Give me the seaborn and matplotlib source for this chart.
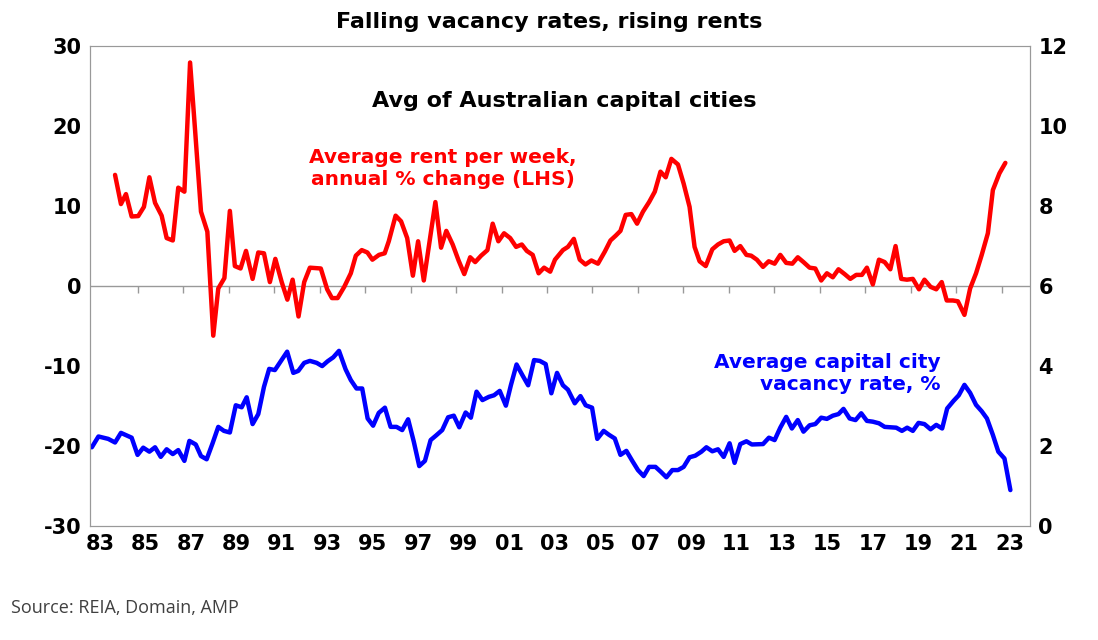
import matplotlib
matplotlib.use('Agg')
import matplotlib.pyplot as plt
import numpy as np
import pandas as pd
import seaborn as sns

# rent growth, annual % change (LHS)
rent_year = [1983.66, 1983.92, 1984.14, 1984.39, 1984.68, 1984.93, 1985.17, 1985.42, 1985.71, 1985.93,
             1986.2, 1986.44, 1986.71, 1986.96, 1987.18, 1987.44, 1987.72, 1987.98, 1988.2, 1988.47,
             1988.71, 1988.93, 1989.18, 1989.42, 1989.71, 1989.96, 1990.21, 1990.47, 1990.71, 1990.99,
             1991.24, 1991.47, 1991.73, 1991.98, 1992.23, 1992.71, 1992.99, 1993.2, 1993.45, 1993.74,
             1994.03, 1994.25, 1994.51, 1994.76, 1994.98, 1995.27, 1995.52, 1995.7, 1996.0, 1996.24,
             1996.51, 1996.76, 1996.99, 1997.24, 1997.75, 1998.0, 1998.23, 1998.51, 1998.77, 1999.02,
             1999.28, 1999.5, 1999.76, 2000.04, 2000.27, 2000.52, 2000.77, 2001.04, 2001.3, 2001.55,
             2001.77, 2002.03, 2002.29, 2002.53, 2002.8, 2003.01, 2003.36, 2003.58, 2003.84, 2004.1,
             2004.35, 2004.61, 2004.9, 2005.2, 2005.45, 2005.68, 2005.89, 2006.12, 2006.37, 2006.62,
             2006.88, 2007.15, 2007.4, 2007.65, 2007.88, 2008.13, 2008.42, 2008.67, 2008.93, 2009.15,
             2009.37, 2009.64, 2009.93, 2010.18, 2010.43, 2010.69, 2010.91, 2011.16, 2011.43, 2011.64,
             2011.89, 2012.16, 2012.41, 2012.67, 2012.92, 2013.18, 2013.45, 2013.69, 2013.94, 2014.21,
             2014.46, 2014.72, 2014.97, 2015.23, 2015.48, 2015.75, 2016.0, 2016.26, 2016.51, 2016.73,
             2016.99, 2017.26, 2017.51, 2017.76, 2017.99, 2018.24, 2018.49, 2018.75, 2019.02, 2019.26,
             2019.53, 2019.78, 2020.02, 2020.24, 2020.51, 2020.73, 2021.02, 2021.27, 2021.53, 2021.78,
             2022.05, 2022.27, 2022.56, 2022.82]
rent_chg = [13.9, 10.25, 11.5, 8.7, 8.75, 9.9, 13.6, 10.4, 8.8, 6.0,
            5.7, 12.3, 11.8, 27.95, 19.5, 9.3, 6.8, -6.2, -0.3, 1.0,
            9.4, 2.5, 2.2, 4.4, 0.9, 4.2, 4.1, 0.5, 3.4, 0.5,
            -1.7, 0.8, -3.8, 0.5, 2.3, 2.2, -0.4, -1.5, -1.5, -0.1,
            1.6, 3.8, 4.5, 4.2, 3.3, 3.9, 4.1, 5.6, 8.8, 8.1,
            6.0, 1.3, 5.6, 0.7, 10.5, 4.8, 6.9, 5.2, 3.2, 1.5,
            3.6, 3.0, 3.8, 4.5, 7.8, 5.6, 6.6, 6.0, 4.9, 5.2,
            4.4, 3.9, 1.6, 2.3, 1.8, 3.3, 4.5, 4.9, 5.9, 3.3,
            2.7, 3.2, 2.8, 4.3, 5.7, 6.3, 6.9, 8.9, 9.0, 7.8,
            9.3, 10.5, 11.8, 14.3, 13.6, 15.9, 15.2, 12.8, 9.9, 4.9,
            3.1, 2.5, 4.6, 5.2, 5.6, 5.7, 4.4, 5.0, 3.9, 3.8,
            3.3, 2.4, 3.1, 2.8, 3.9, 2.9, 2.8, 3.6, 3.0, 2.3,
            2.2, 0.7, 1.6, 1.1, 2.1, 1.5, 0.9, 1.4, 1.4, 2.3,
            0.2, 3.3, 3.0, 2.1, 5.0, 0.9, 0.8, 0.9, -0.4, 0.8,
            -0.1, -0.4, 0.5, -1.8, -1.8, -1.9, -3.6, -0.3, 1.6, 3.9,
            6.6, 12.0, 14.1, 15.4]

# vacancy rate, % (RHS)
vac_year = [1982.64, 1982.93, 1983.36, 1983.66, 1983.92, 1984.39, 1984.65, 1984.9, 1985.17, 1985.42,
            1985.67, 1985.93, 1986.2, 1986.44, 1986.71, 1986.93, 1987.21, 1987.44, 1987.69, 1987.95,
            1988.2, 1988.45, 1988.71, 1988.97, 1989.23, 1989.45, 1989.71, 1989.96, 1990.21, 1990.44,
            1990.69, 1990.96, 1991.23, 1991.5, 1991.72, 1991.98, 1992.23, 1992.53, 1992.77, 1993.01,
            1993.26, 1993.51, 1993.8, 1994.03, 1994.28, 1994.53, 1994.77, 1995.01, 1995.26, 1995.53,
            1995.78, 1996.04, 1996.29, 1996.55, 1996.8, 1997.04, 1997.29, 1997.54, 1997.77, 1998.05,
            1998.31, 1998.56, 1998.8, 1999.08, 1999.31, 1999.56, 1999.82, 2000.1, 2000.33, 2000.58,
            2000.85, 2001.07, 2001.32, 2001.58, 2001.83, 2002.09, 2002.34, 2002.6, 2002.85, 2003.1,
            2003.36, 2003.58, 2003.88, 2004.13, 2004.36, 2004.64, 2004.87, 2005.15, 2005.39, 2005.64,
            2005.89, 2006.15, 2006.41, 2006.66, 2006.91, 2007.15, 2007.43, 2007.66, 2007.91, 2008.17,
            2008.42, 2008.67, 2008.93, 2009.18, 2009.45, 2009.67, 2009.93, 2010.18, 2010.43, 2010.69,
            2010.91, 2011.16, 2011.43, 2011.67, 2012.16, 2012.42, 2012.67, 2012.92, 2013.18, 2013.43,
            2013.69, 2013.94, 2014.21, 2014.46, 2014.72, 2014.97, 2015.23, 2015.48, 2015.7, 2015.97,
            2016.23, 2016.48, 2016.73, 2016.99, 2017.26, 2017.51, 2017.76, 2018.02, 2018.27, 2018.5,
            2018.75, 2019.0, 2019.26, 2019.53, 2019.78, 2020.04, 2020.26, 2020.54, 2020.77, 2021.02,
            2021.27, 2021.53, 2021.78, 2022.01, 2022.27, 2022.51, 2022.78, 2023.04]
vac_rate = [1.97, 2.24, 2.18, 2.09, 2.33, 2.21, 1.78, 1.96, 1.86, 1.97,
            1.73, 1.92, 1.8, 1.9, 1.63, 2.13, 2.04, 1.75, 1.67, 2.07,
            2.48, 2.38, 2.34, 3.02, 2.97, 3.22, 2.55, 2.8, 3.48, 3.93,
            3.9, 4.13, 4.36, 3.83, 3.88, 4.08, 4.13, 4.08, 4.0, 4.12,
            4.22, 4.38, 3.92, 3.65, 3.44, 3.44, 2.69, 2.51, 2.83, 2.96,
            2.48, 2.48, 2.4, 2.67, 2.11, 1.5, 1.63, 2.15, 2.26, 2.4,
            2.72, 2.76, 2.47, 2.84, 2.71, 3.36, 3.15, 3.23, 3.27, 3.38,
            3.01, 3.52, 4.04, 3.77, 3.52, 4.15, 4.13, 4.05, 3.32, 3.83,
            3.52, 3.41, 3.07, 3.25, 3.02, 2.96, 2.18, 2.38, 2.28, 2.19,
            1.78, 1.88, 1.63, 1.4, 1.25, 1.48, 1.48, 1.36, 1.22, 1.4,
            1.4, 1.48, 1.72, 1.76, 1.86, 1.97, 1.87, 1.92, 1.73, 2.07,
            1.58, 2.05, 2.12, 2.04, 2.05, 2.21, 2.15, 2.46, 2.73, 2.44,
            2.65, 2.36, 2.52, 2.55, 2.71, 2.68, 2.76, 2.8, 2.93, 2.69,
            2.65, 2.82, 2.63, 2.61, 2.57, 2.48, 2.47, 2.46, 2.38, 2.46,
            2.38, 2.58, 2.55, 2.42, 2.53, 2.44, 2.94, 3.13, 3.27, 3.53,
            3.33, 3.03, 2.87, 2.69, 2.28, 1.86, 1.69, 0.9]

year_ticks = list(range(1983, 2024, 2))
year_labels = [f'{y % 100:02d}' for y in year_ticks]
zero_ticks = [y + 1.66 for y in range(1983, 2023, 2)]

rent_df = pd.DataFrame({'year': rent_year, 'chg': rent_chg})
vac_df = pd.DataFrame({'year': vac_year, 'rate': vac_rate})

sns.set_style('white')
plt.rcParams['font.family'] = ['DejaVu Sans']
plt.rcParams['axes.unicode_minus'] = False

fig = plt.figure(figsize=(10.98, 6.4), dpi=100)
ax = fig.add_axes([0.082, 0.178, 0.856, 0.75])
ax2 = ax.twinx()

sns.lineplot(x='year', y='chg', data=rent_df, ax=ax, color='#ff0000', linewidth=3.2)
sns.lineplot(x='year', y='rate', data=vac_df, ax=ax2, color='#0000ff', linewidth=3.2)

ax.set_xlim(1982.56, 2023.9)
ax.set_ylim(-30, 30)
ax2.set_ylim(0, 12)
ax.set_yticks(range(-30, 31, 10))
ax2.set_yticks(range(0, 13, 2))
ax.set_xticks(year_ticks)
ax.set_xticklabels(year_labels)
for a in (ax, ax2):
    a.set_xlabel('')
    a.set_ylabel('')
    a.tick_params(labelsize=15, length=0, pad=6, labelcolor='black')
    for lbl in a.get_xticklabels() + a.get_yticklabels():
        lbl.set_fontweight('bold')
    for s in a.spines.values():
        s.set_color('#999999')
ax.spines['top'].set_color('#bbbbbb')

# zero line with small ticks
ax.axhline(0, color='#999999', linewidth=1, zorder=0)
ax.vlines(zero_ticks, -0.9, 0, color='#999999', linewidth=1, zorder=0)

fig.text(0.5, 0.965, 'Falling vacancy rates, rising rents', ha='center', va='center',
         fontsize=16, fontweight='bold', color='black')
ax.text(0.505, 0.885, 'Avg of Australian capital cities', transform=ax.transAxes,
        ha='center', va='center', fontsize=16, fontweight='bold', color='black')
ax.text(0.375, 0.745, 'Average rent per week,\nannual % change (LHS)', transform=ax.transAxes,
        ha='center', va='center', fontsize=14.5, fontweight='bold', color='#ff0000',
        linespacing=1.15)
ax.text(0.905, 0.318, 'Average capital city\nvacancy rate, %', transform=ax.transAxes,
        ha='right', va='center', fontsize=14.5, fontweight='bold', color='#0000ff',
        linespacing=1.15, multialignment='right')
fig.text(0.01, 0.05, 'Source: REIA, Domain, AMP', ha='left', va='center', fontsize=13,
         color='#404040', family=['Open Sans', 'DejaVu Sans'])

fig.savefig('out.png', dpi=100)
